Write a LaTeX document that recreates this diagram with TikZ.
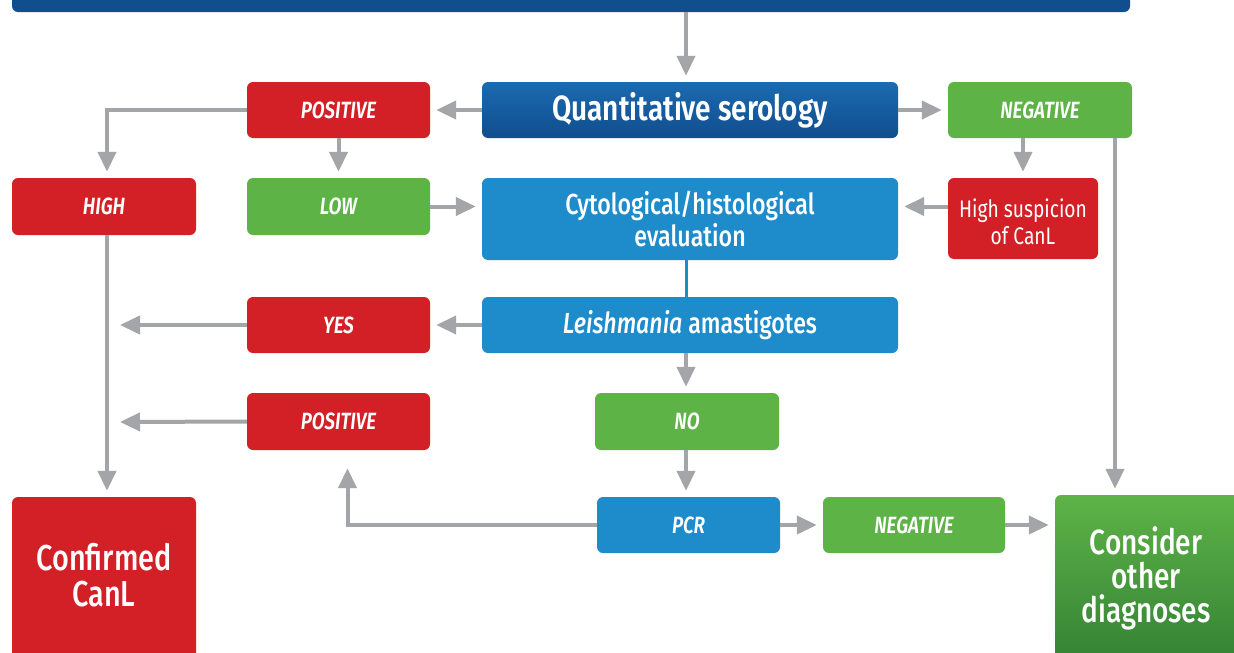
\documentclass[tikz,border=0pt]{standalone}
\usepackage{fontspec}
\setmainfont{Fira Sans}[FakeStretch=0.80, BoldFont={Fira Sans SemiBold}, BoldItalicFont={Fira Sans SemiBold Italic}]
\newfontfamily\medfont{Fira Sans Medium}[FakeStretch=0.80, ItalicFont={Fira Sans Medium Italic}]
\usetikzlibrary{arrows.meta,calc}
\definecolor{cred}{RGB}{211,32,39}
\definecolor{cgreen}{RGB}{94,179,71}
\definecolor{cgreendark}{RGB}{50,128,52}
\definecolor{cblue}{RGB}{30,139,203}
\definecolor{cdark}{RGB}{16,78,142}
\definecolor{cdarktop}{RGB}{28,106,176}
\definecolor{carrow}{RGB}{163,165,168}
\begin{document}
\begin{tikzpicture}[x=1pt,y=-1pt,
  box/.style={rectangle, rounded corners=6pt, inner sep=0pt, text=white, align=center, draw=none},
  redbox/.style={box, fill=cred},
  greenbox/.style={box, fill=cgreen},
  bluebox/.style={box, fill=cblue},
  lab/.style={font=\fontsize{23.5}{26}\selectfont\bfseries\itshape},
  mid/.style={font=\fontsize{29}{32}\selectfont\medfont},
  big/.style={font=\fontsize{36}{36}\selectfont\medfont},
  arr/.style={draw=carrow, line width=4pt, -{Triangle[length=20pt,width=18pt]}, shorten >=6pt},
]
\useasboundingbox (0,0) rectangle (1234,653);
\clip (0,0) rectangle (1234,653);
\fill[white] (0,0) rectangle (1234,653);

% nodes
\node[box, fill=cdark, minimum width=1118pt, minimum height=40pt] (top) at (571,-8) {};
\node[box, top color=cdarktop, bottom color=cdark, minimum width=416pt, minimum height=56pt,
      font=\fontsize{35}{38}\selectfont\bfseries] (quant) at (690,110) {Quantitative serology};
\node[redbox, lab, minimum width=183pt, minimum height=56pt] (pos1) at (338.5,110) {POSITIVE};
\node[greenbox, lab, minimum width=184pt, minimum height=56pt] (neg1) at (1040,110) {NEGATIVE};
\node[redbox, lab, minimum width=184pt, minimum height=57pt] (high) at (104,206.5) {HIGH};
\node[greenbox, lab, minimum width=183pt, minimum height=57pt] (low) at (338.5,206.5) {LOW};
\node[bluebox, mid, minimum width=416pt, minimum height=82pt] (cyto) at (690,219) {Cytological/histological\\evaluation};
\node[redbox, minimum width=150pt, minimum height=81pt] (susp) at (1023,218.5) {};
\node[font=\fontsize{24}{27}\selectfont, text=white, align=center] (susptext) at (1023,221.5) {High suspicion\\of CanL};
\node[bluebox, mid, minimum width=416pt, minimum height=56pt] (leish) at (690,325) {\textit{Leishmania} amastigotes};
\node[redbox, lab, minimum width=183pt, minimum height=56pt] (yes) at (338.5,325) {YES};
\node[greenbox, lab, minimum width=184pt, minimum height=57pt] (no) at (687,421.5) {NO};
\node[redbox, lab, minimum width=183pt, minimum height=57pt] (pos2) at (338.5,421.5) {POSITIVE};
\node[bluebox, lab, minimum width=183pt, minimum height=56pt] (pcr) at (688.5,525) {PCR};
\node[greenbox, lab, minimum width=182pt, minimum height=56pt] (neg2) at (914,525) {NEGATIVE};
\node[redbox, minimum width=184pt, minimum height=173pt] (conf) at (104,583.5) {};
\node[big, text=white, align=center] (conftext) at (104,575) {Confirmed\\CanL};
\node[box, top color=cgreen, bottom color=cgreendark, minimum width=195pt, minimum height=175pt] (cons) at (1152.5,582.5) {};
\node[font=\fontsize{35}{34}\selectfont\medfont, text=white, align=center] (constext) at (1146,578) {Consider\\other\\diagnoses};

\coordinate (yesend) at (120,325);
\coordinate (pos2end) at (120,422);

% connectors
\draw[arr] ([xshift=-4pt]quant.north |- top.south) -- ([xshift=-4pt]quant.north);
\draw[arr] (quant.west) -- (pos1.east);
\draw[arr] (quant.east) -- (neg1.west);
\draw[arr] (pos1.west) -| ([xshift=3pt]high.north);
\draw[arr] (pos1.south) -- (low.north);
\draw[arr] (low.east) -- (low.east -| cyto.west);
\draw[arr] (susp.north |- neg1.south) -- (susp.north);
\draw[arr] (susp.west |- low.east) -- (cyto.east |- low.east);
\draw[arr] ([xshift=75pt]neg1.south) -- ([xshift=75pt]neg1.south |- cons.north);
\draw[cblue, line width=3pt] ([xshift=-4pt]cyto.south) -- ([xshift=-4pt]leish.north);
\draw[arr] (leish.west) -- (yes.east);
\draw[arr, shorten >=0pt] (yes.west) -- (yesend);
\draw[arr] ([xshift=3pt]high.south) -- ([xshift=3pt]high.south |- conf.north);
\draw[arr] ([xshift=-4pt]leish.south) -- ([xshift=-1pt]no.north);
\draw[arr, shorten >=0pt] (pos2.west) -- (pos2end);
\draw[arr] ([xshift=-1pt]no.south) -- ([xshift=-2.5pt]pcr.north);
\draw[arr, shorten >=18pt] (pcr.west) -| ([xshift=9pt]pos2.south);
\draw[arr] (pcr.east) -- (neg2.west);
\draw[arr] (neg2.east) -- (neg2.east -| cons.west);
\end{tikzpicture}
\end{document}
